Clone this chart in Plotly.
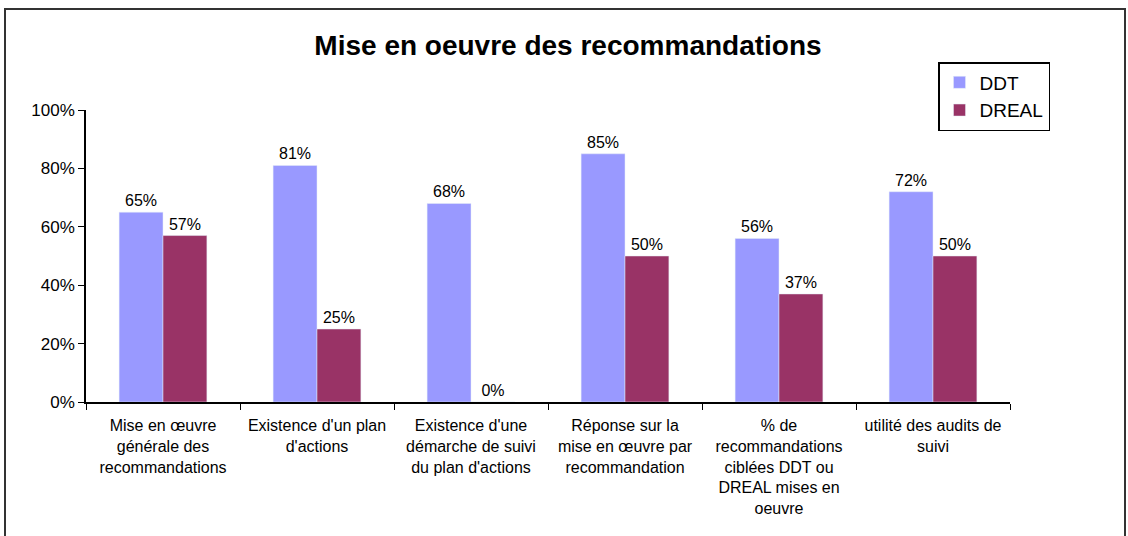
import plotly.graph_objects as go

categories = [
    "Mise en œuvre<br>générale des<br>recommandations",
    "Existence d'un plan<br>d'actions",
    "Existence d'une<br>démarche de suivi<br>du plan d'actions",
    "Réponse sur la<br>mise en œuvre par<br>recommandation",
    "% de<br>recommandations<br>ciblées DDT ou<br>DREAL mises en<br>oeuvre",
    "utilité des audits de<br>suivi",
]
ddt = [0.65, 0.81, 0.68, 0.85, 0.56, 0.72]
dreal = [0.57, 0.25, 0.00, 0.50, 0.37, 0.50]

FONT = "Liberation Sans, Arial, sans-serif"
W, H = 1128, 536
ML, MR, MT, MB = 86, 118, 110, 134
pw, ph = W - ML - MR, H - MT - MB

fig = go.Figure()
fig.add_trace(go.Bar(
    x=categories, y=ddt, name="DDT", marker_color="#9999FF",
    text=[f"{v:.0%}" for v in ddt], textposition="outside",
    textfont=dict(size=16, color="black", family=FONT), cliponaxis=False,
))
fig.add_trace(go.Bar(
    x=categories, y=dreal, name="DREAL", marker_color="#993366",
    text=[f"{v:.0%}" for v in dreal], textposition="outside",
    textfont=dict(size=16, color="black", family=FONT), cliponaxis=False,
))

def px_to_paper_x(px):
    return (px - ML) / pw

def px_to_paper_y(py):
    return (H - MB - py) / ph

fig.add_shape(type="rect", xref="paper", yref="paper",
              x0=px_to_paper_x(5), x1=px_to_paper_x(1125),
              y0=px_to_paper_y(560), y1=px_to_paper_y(9),
              line=dict(color="#333333", width=2), fillcolor="rgba(0,0,0,0)")

fig.update_layout(
    width=W, height=H,
    margin=dict(l=ML, r=MR, t=MT, b=MB),
    paper_bgcolor="white", plot_bgcolor="white",
    barmode="group", bargap=0.43, bargroupgap=0,
    font=dict(family=FONT, color="black"),
    title=dict(text="<b>Mise en oeuvre des recommandations</b>",
               x=568 / W, xanchor="center", y=1 - 45 / H, yanchor="middle",
               font=dict(size=28, family=FONT, color="black")),
    legend=dict(x=px_to_paper_x(938), y=px_to_paper_y(62), xanchor="left", yanchor="top",
                bordercolor="black", borderwidth=1.5, bgcolor="white",
                font=dict(size=19, family=FONT), itemwidth=30, tracegroupgap=0),
    showlegend=True,
)
fig.update_yaxes(range=[0, 1], dtick=0.2, tickformat=".0%", showgrid=False,
                 showline=True, linecolor="black", linewidth=1.5,
                 ticks="outside", ticklen=6, tickcolor="black",
                 tickfont=dict(size=17, family=FONT), zeroline=False)
fig.update_xaxes(showline=True, linecolor="black", linewidth=1.5,
                 ticks="outside", ticklen=6, tickcolor="black", tickson="boundaries",
                 ticklabelstandoff=8,
                 tickfont=dict(size=16, family=FONT), tickangle=0)

fig.write_html("out.html", config={"displayModeBar": False},
               post_script="document.body.style.margin='0';document.body.style.overflow='hidden';")
